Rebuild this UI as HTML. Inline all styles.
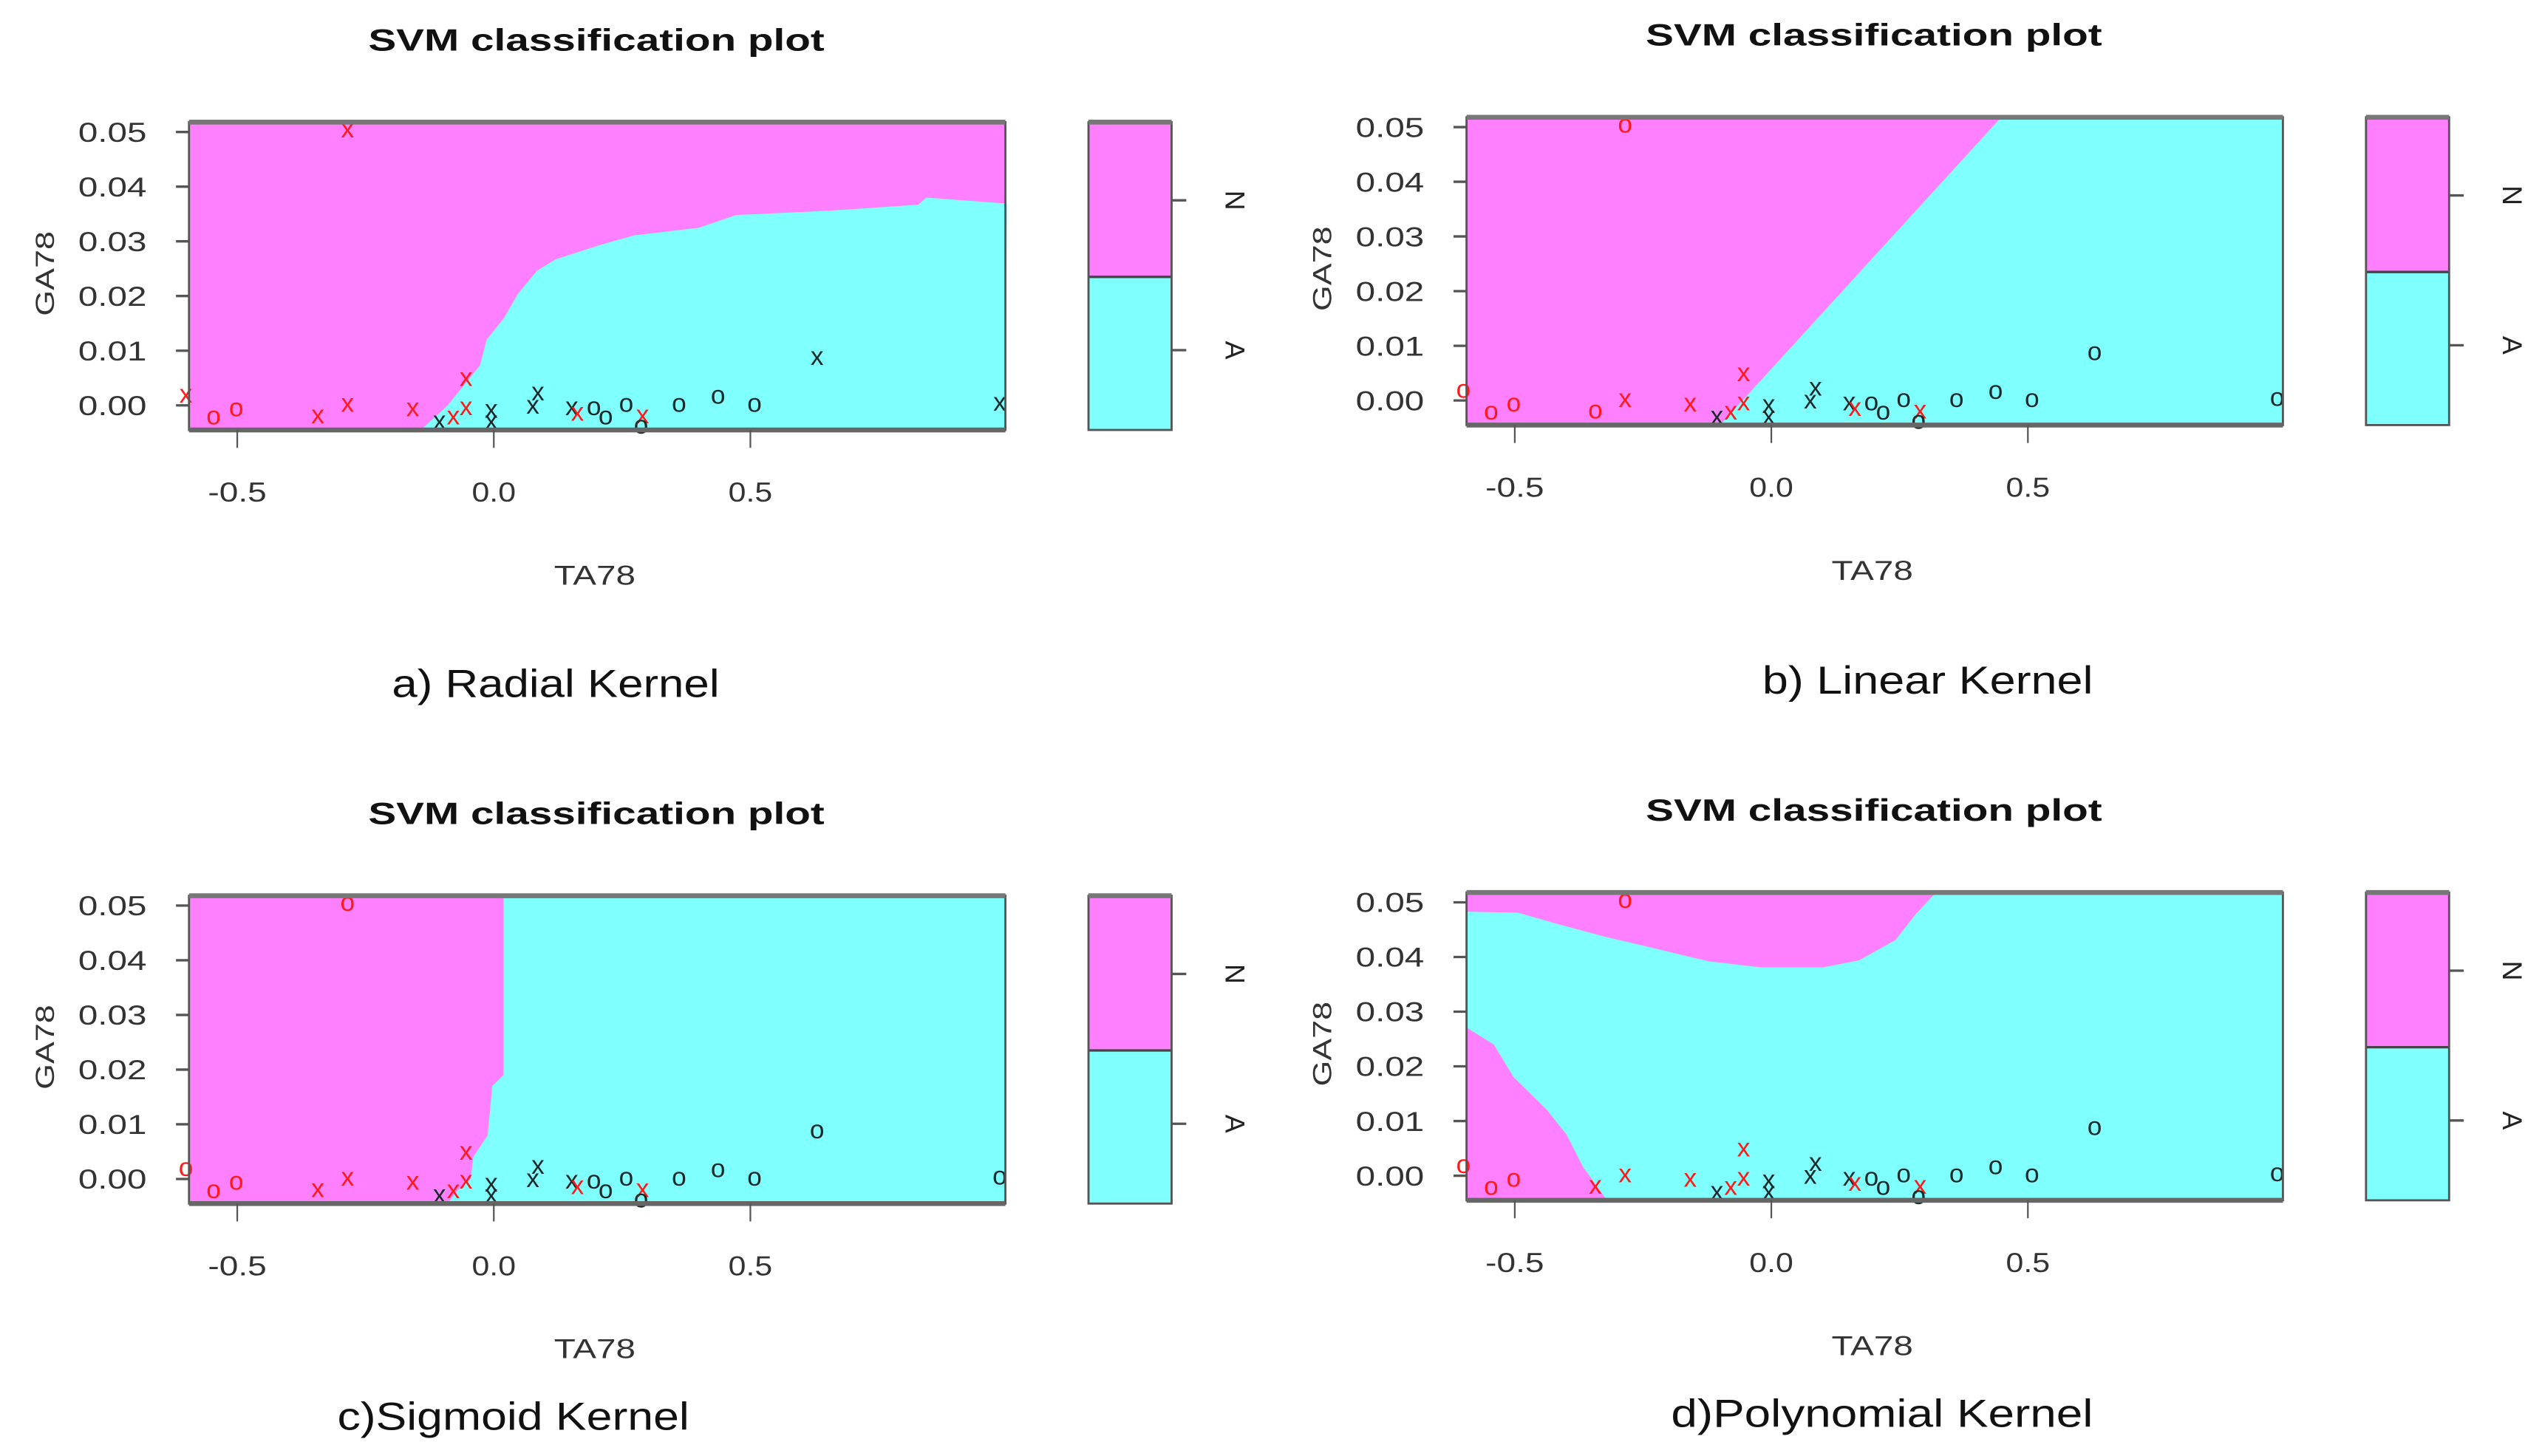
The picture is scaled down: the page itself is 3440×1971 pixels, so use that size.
<!DOCTYPE html>
<html><head><meta charset="utf-8"><style>
html,body{margin:0;padding:0;background:#fff;}
svg{display:block;}
text{font-family:"Liberation Sans",sans-serif;}
</style></head>
<body>
<svg id="chart" width="3440" height="1971" viewBox="0 0 1560 894" preserveAspectRatio="none" xmlns="http://www.w3.org/2000/svg"></svg>
<script>
// ---- data ----
const xTicks = [-0.5, 0.0, 0.5];
const xTickLabels = ["-0.5", "0.0", "0.5"];
const yTicks = [0, 0.01, 0.02, 0.03, 0.04, 0.05];
const yTickLabels = ["0.00", "0.01", "0.02", "0.03", "0.04", "0.05"];
const ptX = [-0.6, -0.546, -0.502, -0.343, -0.285, -0.158, -0.106, -0.079, -0.054, -0.054, -0.005, -0.005, 0.076, 0.086, 0.152, 0.163, 0.195, 0.218, 0.258, 0.29, 0.287, 0.361, 0.437, 0.508, 0.63, 0.986, -0.285];
const ptY = [0.002, -0.002, -0.0005, -0.0018, 0.0003, -0.0005, -0.0029, -0.002, -0.0003, 0.005, -0.0008, -0.0029, 0.0, 0.0024, -0.0003, -0.0013, -0.0003, -0.002, 0.0003, -0.0018, -0.0037, 0.0003, 0.0018, 0.0003, 0.0089, 0.0005, 0.0505];
const ptClass = ["N","N","N","N","N","N","A","N","N","N","A","A","A","A","A","N","A","A","A","N","A","A","A","A","A","A","N"];
const symA = ["x","o","o","x","x","x","x","x","x","x","x","x","x","x","x","x","o","o","o","x","o","o","o","o","x","x","x"];
const symB = ["o","o","o","o","x","x","x","x","x","x","x","x","x","x","x","x","o","o","o","x","o","o","o","o","o","o","o"];
const symC = ["o","o","o","x","x","x","x","x","x","x","x","x","x","x","x","x","o","o","o","x","o","o","o","o","o","o","o"];
const symD = ["o","o","o","x","x","x","x","x","x","x","x","x","x","x","x","x","o","o","o","x","o","o","o","o","o","o","o"];
// radial boundary (cyan below/right)
const radBX = [-0.142, -0.09, -0.027, -0.014, 0.02, 0.047, 0.084, 0.12, 0.206, 0.274, 0.4, 0.472, 0.653, 0.827, 0.843, 1.0];
const radBY = [-0.0045, 0.0, 0.0073, 0.012, 0.016, 0.0204, 0.0246, 0.0267, 0.0293, 0.0311, 0.0325, 0.0348, 0.0356, 0.0367, 0.038, 0.0369];
// linear boundary
const linBX = [-0.10, 0.448];
const linBY = [-0.0045, 0.0518];
// sigmoid boundary
const sigBX = [0.019, 0.019, -0.003, -0.012, -0.04, -0.045, -0.07, -0.09];
const sigBY = [0.0518, 0.019, 0.017, 0.008, 0.004, 0.0, -0.002, -0.0045];
// polynomial boundaries
const polTopX = [-0.594, -0.494, -0.415, -0.328, -0.233, -0.122, -0.019, 0.1, 0.171, 0.242, 0.282, 0.321];
const polTopY = [0.0483, 0.0481, 0.046, 0.0438, 0.0417, 0.0392, 0.0381, 0.0381, 0.0394, 0.0431, 0.0479, 0.0518];
const polBotX = [-0.594, -0.541, -0.502, -0.438, -0.399, -0.367, -0.32];
const polBotY = [0.0271, 0.024, 0.018, 0.0121, 0.0075, 0.0016, -0.0045];

const X0 = -0.594, X1 = 0.997, Y0 = -0.0045, Y1 = 0.0518;
const MAG = "#FF80FF", CYN = "#80FFFF";
const svg = document.getElementById('chart');
const NS = "http://www.w3.org/2000/svg";
function mk(tag, attrs, parent) {
  const e = document.createElementNS(NS, tag);
  for (const k in attrs) e.setAttribute(k, attrs[k]);
  (parent || svg).appendChild(e);
  return e;
}
function panel(key, L, T, title, caption, capX, capY, capW, sym) {
  const W = 501, H = 189;
  const g = mk('g', {});
  
  
  const sx = v => L + (v - X0) / (X1 - X0) * W;
  const sy = v => T + (Y1 - v) / (Y1 - Y0) * H;
  const t = mk('text', {x: L + 250, y: T - 44, 'text-anchor': 'middle', 'font-size': 19, 'font-weight': 'bold', fill: '#111', textLength: 280, lengthAdjust: 'spacingAndGlyphs'}, g);
  t.textContent = title;
  
  
  const bg = mk('rect', {x: L, y: T, width: W, height: H, fill: MAG}, g);
  
  
  const regions = mk('g', {}, g);
  
  
  let pts;
  if (key === 'a') {
    pts = radBX.map((x, i) => sx(x) + ',' + sy(radBY[i]));
    pts.push(sx(X1) + ',' + sy(Y0));
    const p = mk('polygon', {points: pts.join(' '), fill: CYN}, regions);
    
    
  } else if (key === 'b') {
    pts = linBX.map((x, i) => sx(x) + ',' + sy(linBY[i]));
    pts.push(sx(X1) + ',' + sy(Y1), sx(X1) + ',' + sy(Y0));
    const p = mk('polygon', {points: pts.join(' '), fill: CYN}, regions);
    
    
  } else if (key === 'c') {
    pts = sigBX.map((x, i) => sx(x) + ',' + sy(sigBY[i]));
    pts.push(sx(X1) + ',' + sy(Y0), sx(X1) + ',' + sy(Y1));
    const p = mk('polygon', {points: pts.join(' '), fill: CYN}, regions);
    
    
  } else {
    bg.setAttribute('fill', CYN);
    pts = polTopX.map((x, i) => sx(x) + ',' + sy(polTopY[i]));
    pts.push(sx(X0) + ',' + sy(Y1));
    const p = mk('polygon', {points: pts.join(' '), fill: MAG}, regions);
    
    
    pts = polBotX.map((x, i) => sx(x) + ',' + sy(polBotY[i]));
    pts.push(sx(X0) + ',' + sy(Y0));
    const q = mk('polygon', {points: pts.join(' '), fill: MAG}, regions);
    
    
  }
  const pg = mk('g', {}, g);
  
  
  ptX.forEach((x, i) => {
    const tx = mk('text', {x: sx(x), y: sy(ptY[i]) + 5, 'text-anchor': 'middle', 'font-size': 16,
      fill: ptClass[i] === 'N' ? '#FF1A1A' : '#1a2a2a'}, pg);
    tx.textContent = sym[i];
    
    
  });
  const fr = mk('rect', {x: L, y: T, width: W, height: H, fill: 'none', stroke: '#555', 'stroke-width': 1.3}, g);
  
  
  mk('rect', {x: L, y: T - 1.5, width: W, height: 3, fill: '#777'}, g);
  mk('rect', {x: L, y: T + H - 1.5, width: W, height: 3, fill: '#666'}, g);
  xTicks.forEach((v, i) => {
    mk('line', {x1: sx(v), x2: sx(v), y1: T + H, y2: T + H + 11, stroke: '#555', 'stroke-width': 1}, g);
    const tl = mk('text', {x: sx(v), y: T + H + 44, 'text-anchor': 'middle', 'font-size': 17, fill: '#333', textLength: xTickLabels[i].length * 9, lengthAdjust: 'spacingAndGlyphs'}, g);
    tl.textContent = xTickLabels[i];
    
    
  });
  yTicks.forEach((v, i) => {
    mk('line', {x1: L - 8, x2: L, y1: sy(v), y2: sy(v), stroke: '#555', 'stroke-width': 1.5}, g);
    const tl = mk('text', {x: L - 47, y: sy(v) + 6, 'text-anchor': 'middle', 'font-size': 17, fill: '#333', textLength: 42, lengthAdjust: 'spacingAndGlyphs'}, g);
    tl.textContent = yTickLabels[i];
    
    
  });
  const xl = mk('text', {x: L + 249, y: T + H + 95, 'text-anchor': 'middle', 'font-size': 17, fill: '#333', textLength: 50, lengthAdjust: 'spacingAndGlyphs'}, g);
  xl.textContent = 'TA78';
  
  
  const yl = mk('text', {x: 0, y: 0, 'text-anchor': 'middle', 'font-size': 16, fill: '#333', textLength: 52, lengthAdjust: 'spacingAndGlyphs', transform: `translate(${L - 83},${T + 93}) rotate(-90)`}, g);
  yl.textContent = 'GA78';
  
  
  const lg = mk('g', {}, g);
  
  
  const LX = L + 552, LW = 51, mid = T + 95;
  mk('rect', {x: LX, y: T, width: LW, height: mid - T, fill: MAG}, lg);
  mk('rect', {x: LX, y: mid, width: LW, height: T + H - mid, fill: CYN}, lg);
  mk('line', {x1: LX, x2: LX + LW, y1: mid, y2: mid, stroke: '#444', 'stroke-width': 1.5}, lg);
  mk('rect', {x: LX, y: T, width: LW, height: H, fill: 'none', stroke: '#555', 'stroke-width': 1.3}, lg);
  mk('rect', {x: LX, y: T - 1.5, width: LW, height: 3, fill: '#777'}, lg);
  [['N', T + 48], ['A', T + 140]].forEach(([lab, yy]) => {
    mk('line', {x1: LX + LW, x2: LX + LW + 9, y1: yy, y2: yy, stroke: '#555', 'stroke-width': 1.5}, lg);
    const lt = mk('text', {x: 0, y: 0, 'text-anchor': 'middle', 'font-size': 17, fill: '#222', transform: `translate(${LX + LW + 33},${yy}) rotate(90)`}, lg);
    lt.textContent = lab;
    
    
  });
  const cp = mk('text', {x: capX, y: capY, 'text-anchor': 'middle', 'font-size': 24, fill: '#111', textLength: capW, lengthAdjust: 'spacingAndGlyphs'}, g);
  cp.textContent = caption;
  
  
}
panel('a', 116, 75, 'SVM classification plot', 'a) Radial Kernel', 341, 428, 201, symA);
panel('b', 900, 72, 'SVM classification plot', 'b) Linear Kernel', 1183, 426, 203, symB);
panel('c', 116, 550, 'SVM classification plot', 'c)Sigmoid Kernel', 315, 878, 216, symC);
panel('d', 900, 548, 'SVM classification plot', 'd)Polynomial Kernel', 1155, 876, 259, symD);
</script>
</body></html>
